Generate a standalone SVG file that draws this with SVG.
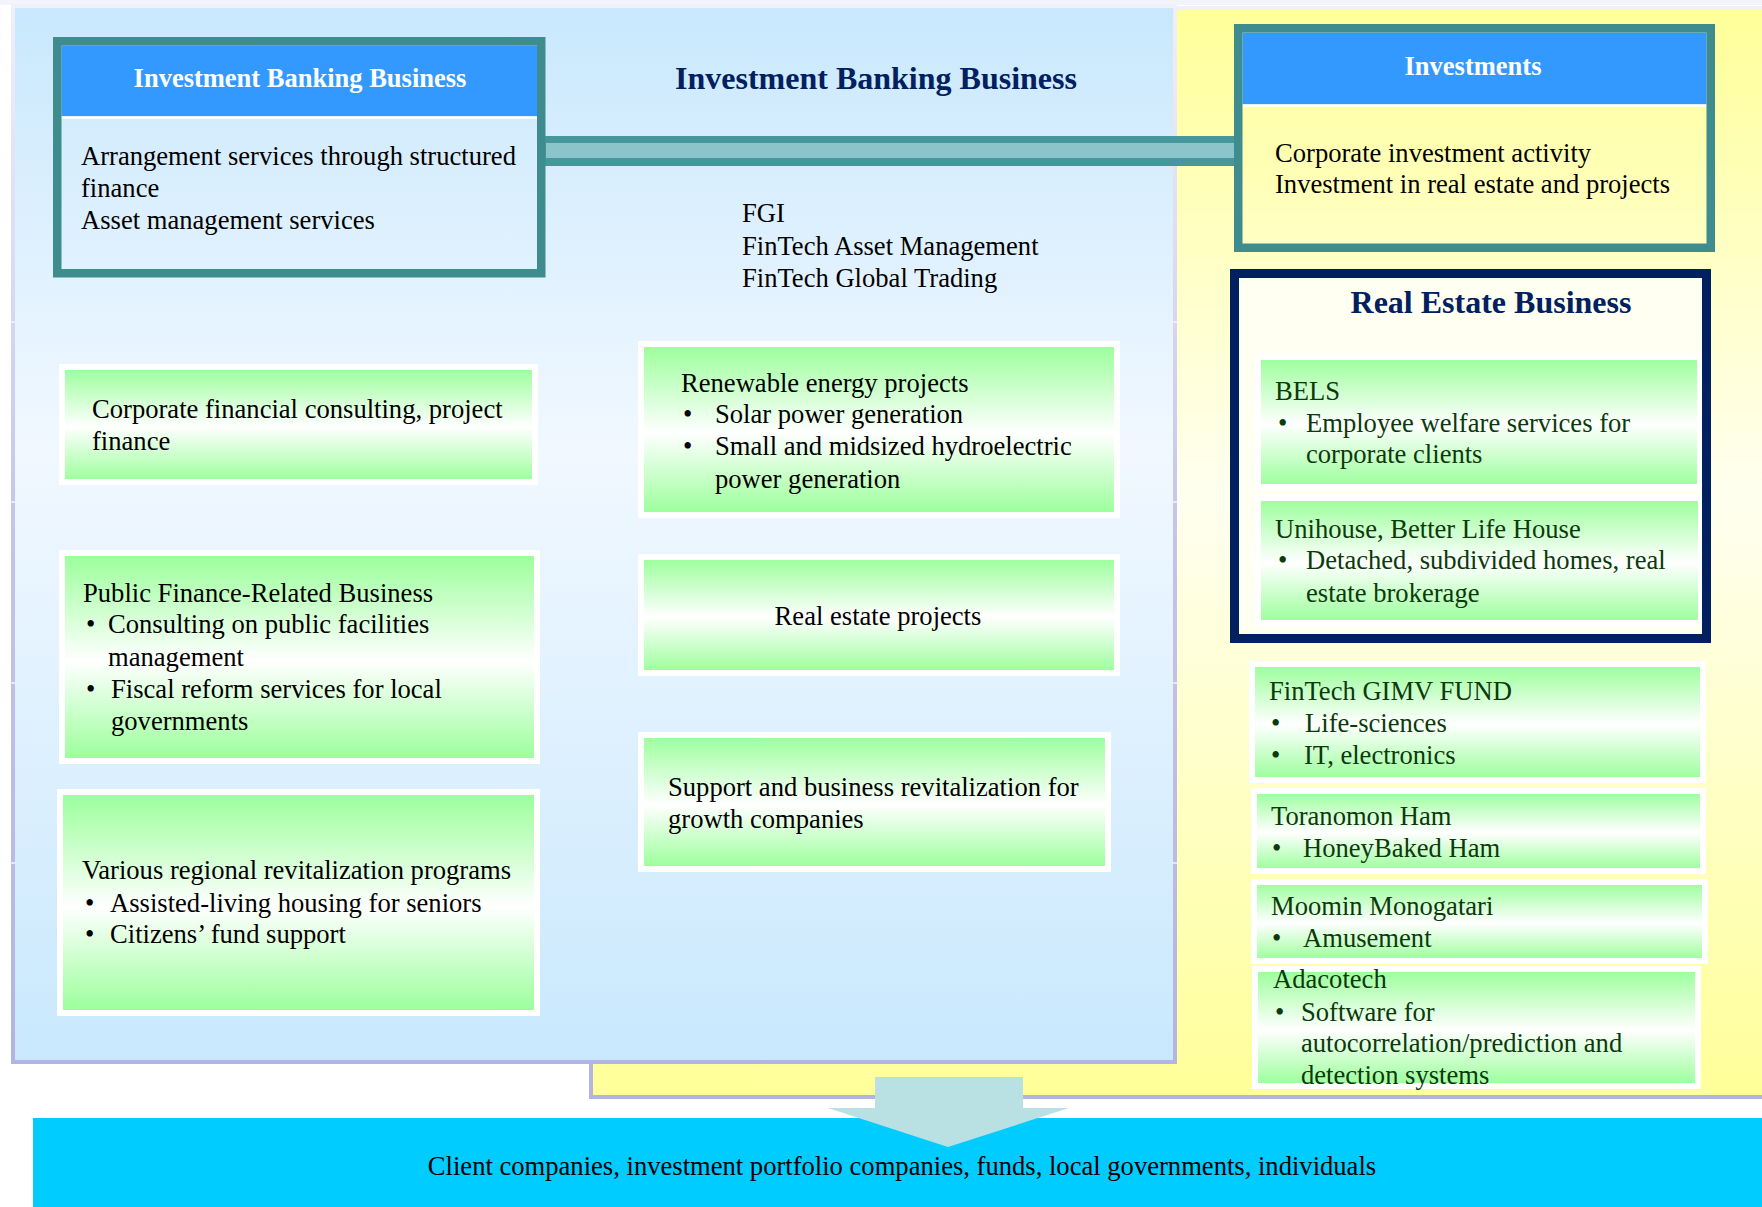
<svg xmlns="http://www.w3.org/2000/svg" width="1762" height="1207" viewBox="0 0 1762 1207">
  <defs>
    <linearGradient id="bluePanel" x1="0" y1="0" x2="0" y2="1">
      <stop offset="0" stop-color="#c9e8fd"/>
      <stop offset="0.42" stop-color="#f1f8ff"/>
      <stop offset="1" stop-color="#c9e8fd"/>
    </linearGradient>
    <linearGradient id="yellowPanel" x1="0" y1="0" x2="0" y2="1">
      <stop offset="0" stop-color="#ffff99"/>
      <stop offset="0.45" stop-color="#fffff0"/>
      <stop offset="1" stop-color="#ffff99"/>
    </linearGradient>
    <linearGradient id="panelEdge" x1="0" y1="0" x2="0" y2="1">
      <stop offset="0" stop-color="#f0f0fa"/>
      <stop offset="0.5" stop-color="#c4c4ea"/>
      <stop offset="1" stop-color="#b4b4e4"/>
    </linearGradient>
    <linearGradient id="green" x1="0" y1="0" x2="0" y2="1">
      <stop offset="0" stop-color="#99ff99"/>
      <stop offset="0.52" stop-color="#ffffff"/>
      <stop offset="1" stop-color="#99ff99"/>
    </linearGradient>
    <style>
      .t { font-family: "Liberation Serif", "Times New Roman", serif; font-size: 26.6px; fill: #000; }
      .dk { fill: #0b3a0b; }
      .hd { font-size: 26.5px; font-weight: bold; fill: #ffffff; text-anchor: middle; }
      .ttl { font-size: 32px; font-weight: bold; fill: #002060; text-anchor: middle; }
      .gbox { fill: url(#green); stroke: #ffffff; stroke-width: 6; }
      .tealbox { fill: none; stroke: #3f8c8f; stroke-width: 8.5; }
      .header { fill: #3399ff; }
      .sep { stroke: #ffffff; stroke-width: 2.5; }
      .tick { stroke: #f2f2fb; stroke-width: 1.5; }
    </style>
  </defs>

  <!-- page background -->
  <rect x="0" y="0" width="1762" height="1207" fill="#ffffff"/>
  <rect x="0" y="0" width="1762" height="5" fill="#f3f3fa"/>

  <!-- investment segment panel (yellow, behind) -->
  <g id="panel-investments">
    <rect x="591" y="8" width="1190" height="1089" fill="url(#yellowPanel)" stroke="url(#panelEdge)" stroke-width="4"/>
  </g>

  <!-- investment banking panel (blue) -->
  <g id="panel-banking">
    <rect x="13" y="6" width="1162" height="1056" fill="url(#bluePanel)" stroke="url(#panelEdge)" stroke-width="4"/>
    <line class="tick" x1="10" y1="322" x2="16" y2="322"/>
    <line class="tick" x1="10" y1="502" x2="16" y2="502"/>
    <line class="tick" x1="10" y1="683" x2="16" y2="683"/>
    <line class="tick" x1="10" y1="863" x2="16" y2="863"/>
    <line class="tick" x1="1172" y1="322" x2="1178" y2="322"/>
    <line class="tick" x1="1172" y1="502" x2="1178" y2="502"/>
    <line class="tick" x1="1172" y1="683" x2="1178" y2="683"/>
    <line class="tick" x1="1172" y1="863" x2="1178" y2="863"/>
  </g>

  <!-- client bar -->
  <g id="clients">
    <rect x="33" y="1118" width="1740" height="100" fill="#00ccff"/>
    <text class="t" x="902" y="1175" text-anchor="middle">Client companies, investment portfolio companies, funds, local governments, individuals</text>
  </g>

  <!-- connectors -->
  <g id="connectors">
    <rect x="545" y="136" width="693" height="30" fill="#46979c"/>
    <rect x="546" y="143" width="688" height="15" fill="#8bc5cb"/>
    <polygon points="875,1077 1023,1077 1023,1108 1069,1108 948,1147 828,1108 875,1108" fill="#b9e0e3"/>
  </g>

  <!-- segment title -->
  <g id="title-banking">
    <text class="t ttl" x="876" y="89">Investment Banking Business</text>
  </g>

  <!-- investment banking business box -->
  <g id="box-ib">
    <rect class="header" x="61.5" y="45.5" width="475.5" height="71"/>
    <line class="sep" x1="61.5" y1="117.5" x2="537" y2="117.5"/>
    <rect class="tealbox" x="57.25" y="41.25" width="484" height="232"/>
    <text class="t hd" x="300" y="87">Investment Banking Business</text>
    <text class="t" x="81" y="165">Arrangement services through structured</text>
    <text class="t" x="81" y="197">finance</text>
    <text class="t" x="81" y="229">Asset management services</text>
  </g>

  <!-- group companies -->
  <g id="companies">
    <text class="t" x="742" y="222">FGI</text>
    <text class="t" x="742" y="255">FinTech Asset Management</text>
    <text class="t" x="742" y="287">FinTech Global Trading</text>
  </g>

  <!-- investments box -->
  <g id="box-investments">
    <rect class="header" x="1242.5" y="32.5" width="464" height="72"/>
    <line class="sep" x1="1242.5" y1="105.5" x2="1706.5" y2="105.5"/>
    <rect class="tealbox" x="1238.25" y="28.25" width="472.5" height="219.5"/>
    <text class="t hd" x="1473" y="75">Investments</text>
    <text class="t" x="1275" y="162">Corporate investment activity</text>
    <text class="t" x="1275" y="193">Investment in real estate and projects</text>
  </g>

  <!-- left column -->
  <g id="box-corporate-finance">
    <rect class="gbox" x="62" y="367" width="473" height="115"/>
    <text class="t" x="92" y="418">Corporate financial consulting, project</text>
    <text class="t" x="92" y="450">finance</text>
  </g>

  <g id="box-public-finance">
    <rect class="gbox" x="62" y="553" width="475" height="208"/>
    <text class="t" x="83" y="602">Public Finance-Related Business</text>
    <text class="t" x="86" y="633">•</text>
    <text class="t" x="108" y="633">Consulting on public facilities</text>
    <text class="t" x="108" y="666">management</text>
    <text class="t" x="86" y="698">•</text>
    <text class="t" x="111" y="698">Fiscal reform services for local</text>
    <text class="t" x="111" y="730">governments</text>
  </g>

  <g id="box-regional">
    <rect class="gbox" x="60" y="792" width="477" height="221"/>
    <text class="t" x="82" y="879">Various regional revitalization programs</text>
    <text class="t" x="85" y="912">•</text>
    <text class="t" x="110" y="912">Assisted-living housing for seniors</text>
    <text class="t" x="85" y="943">•</text>
    <text class="t" x="110" y="943">Citizens’ fund support</text>
  </g>

  <!-- middle column -->
  <g id="box-renewable">
    <rect class="gbox" x="641" y="344" width="476" height="171"/>
    <text class="t" x="681" y="392">Renewable energy projects</text>
    <text class="t" x="683" y="423">•</text>
    <text class="t" x="715" y="423">Solar power generation</text>
    <text class="t" x="683" y="455">•</text>
    <text class="t" x="715" y="455">Small and midsized hydroelectric</text>
    <text class="t" x="715" y="488">power generation</text>
  </g>

  <g id="box-real-estate-projects">
    <rect class="gbox" x="641" y="557" width="476" height="116"/>
    <text class="t" x="878" y="625" text-anchor="middle">Real estate projects</text>
  </g>

  <g id="box-growth">
    <rect class="gbox" x="641" y="735" width="467" height="134"/>
    <text class="t" x="668" y="796">Support and business revitalization for</text>
    <text class="t" x="668" y="828">growth companies</text>
  </g>

  <!-- real estate business, with its two companies inside the frame -->
  <g id="box-real-estate">
    <rect x="1234.5" y="273.5" width="472" height="365" fill="#fffff2"/>
    <text class="t ttl" x="1491" y="313">Real Estate Business</text>

    <g id="box-bels">
      <rect class="gbox" x="1258" y="357" width="442" height="130"/>
      <text class="t dk" x="1275" y="400">BELS</text>
      <text class="t dk" x="1278" y="432">•</text>
      <text class="t dk" x="1306" y="432">Employee welfare services for</text>
      <text class="t dk" x="1306" y="463">corporate clients</text>
    </g>

    <g id="box-unihouse">
      <rect class="gbox" x="1258" y="498" width="443" height="125"/>
      <text class="t dk" x="1275" y="538">Unihouse, Better Life House</text>
      <text class="t dk" x="1278" y="569">•</text>
      <text class="t dk" x="1306" y="569">Detached, subdivided homes, real</text>
      <text class="t dk" x="1306" y="602">estate brokerage</text>
    </g>

    <rect x="1234.5" y="273.5" width="472" height="365" fill="none" stroke="#002060" stroke-width="9"/>
  </g>

  <!-- portfolio companies -->
  <g id="box-gimv">
    <rect class="gbox" x="1252" y="664" width="451" height="116"/>
    <text class="t dk" x="1269" y="700">FinTech GIMV FUND</text>
    <text class="t dk" x="1271" y="732">•</text>
    <text class="t dk" x="1305" y="732">Life-sciences</text>
    <text class="t dk" x="1271" y="764">•</text>
    <text class="t dk" x="1304" y="764">IT, electronics</text>
  </g>

  <g id="box-toranomon">
    <rect class="gbox" x="1254" y="791" width="449" height="80"/>
    <text class="t dk" x="1271" y="825">Toranomon Ham</text>
    <text class="t dk" x="1272" y="857">•</text>
    <text class="t dk" x="1303" y="857">HoneyBaked Ham</text>
  </g>

  <g id="box-moomin">
    <rect class="gbox" x="1254" y="882" width="451" height="79"/>
    <text class="t dk" x="1271" y="915">Moomin Monogatari</text>
    <text class="t dk" x="1272" y="947">•</text>
    <text class="t dk" x="1303" y="947">Amusement</text>
  </g>

  <g id="box-adacotech">
    <rect class="gbox" x="1255" y="969" width="443" height="117"/>
    <text class="t dk" x="1273" y="988">Adacotech</text>
    <text class="t dk" x="1275" y="1021">•</text>
    <text class="t dk" x="1301" y="1021">Software for</text>
    <text class="t dk" x="1301" y="1052">autocorrelation/prediction and</text>
    <text class="t dk" x="1301" y="1084">detection systems</text>
  </g>
</svg>
